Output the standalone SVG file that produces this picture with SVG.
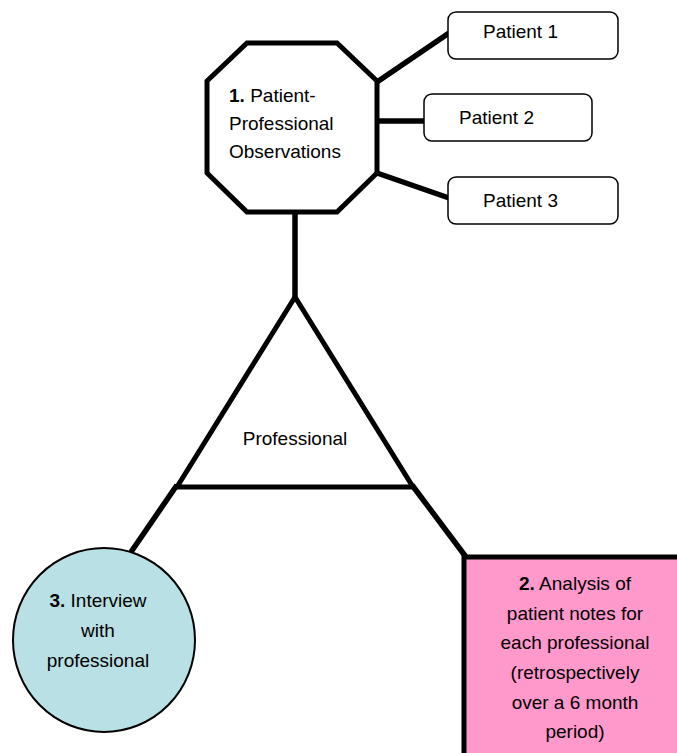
<svg xmlns="http://www.w3.org/2000/svg" width="677" height="753" viewBox="0 0 677 753">
<style>
text{font-family:"Liberation Sans",Arial,sans-serif;font-size:19px;fill:#000}
.c{text-anchor:middle}
.thick{stroke:#000;stroke-width:5.5;fill:none}
.pbox{fill:#fff;stroke:#000;stroke-width:1.5}
</style>
<rect width="677" height="753" fill="#fff"/>
<g id="connectors">
<line class="thick" x1="295" y1="212" x2="295" y2="297"/>
<line class="thick" x1="377" y1="82" x2="449" y2="33"/>
<line class="thick" x1="377" y1="121" x2="424" y2="121"/>
<line class="thick" x1="377" y1="173" x2="449" y2="198"/>
<line class="thick" x1="177" y1="485" x2="131" y2="552"/>
<line class="thick" x1="412" y1="485" x2="466" y2="557"/>
</g>
<g id="professional">
<polygon points="295,297 177,487 413,487" fill="#fff" stroke="#000" stroke-width="5" stroke-linejoin="miter"/>
<text class="c" x="295" y="445">Professional</text>
</g>
<g id="observations">
<polygon points="247,43 337,43 377,81 377,173 337,212 247,212 207,173 207,81" fill="#fff" stroke="#000" stroke-width="5"/>
<text x="229" y="102"><tspan font-weight="bold">1.</tspan> Patient-</text>
<text x="229" y="130">Professional</text>
<text x="229" y="158">Observations</text>
</g>
<g id="patient1">
<rect class="pbox" x="448" y="12" width="170" height="47" rx="8"/>
<text x="483" y="38">Patient 1</text>
</g>
<g id="patient2">
<rect class="pbox" x="424" y="94" width="168" height="47" rx="8"/>
<text x="459" y="124">Patient 2</text>
</g>
<g id="patient3">
<rect class="pbox" x="448" y="177" width="170" height="47" rx="8"/>
<text x="483" y="207">Patient 3</text>
</g>
<g id="interview">
<ellipse cx="104" cy="640" rx="91" ry="92" fill="#B9E0E4" stroke="#000" stroke-width="2"/>
<text class="c" x="98" y="607"><tspan font-weight="bold">3.</tspan> Interview</text>
<text class="c" x="98" y="637">with</text>
<text class="c" x="98" y="667">professional</text>
</g>
<g id="analysis">
<rect x="464" y="557" width="260" height="250" fill="#FF99CC" stroke="#000" stroke-width="5"/>
<text class="c" x="575" y="590"><tspan font-weight="bold">2.</tspan> Analysis of</text>
<text class="c" x="575" y="620">patient notes for</text>
<text class="c" x="575" y="649">each professional</text>
<text class="c" x="575" y="679">(retrospectively</text>
<text class="c" x="575" y="709">over a 6 month</text>
<text class="c" x="575" y="738">period)</text>
</g>
</svg>
